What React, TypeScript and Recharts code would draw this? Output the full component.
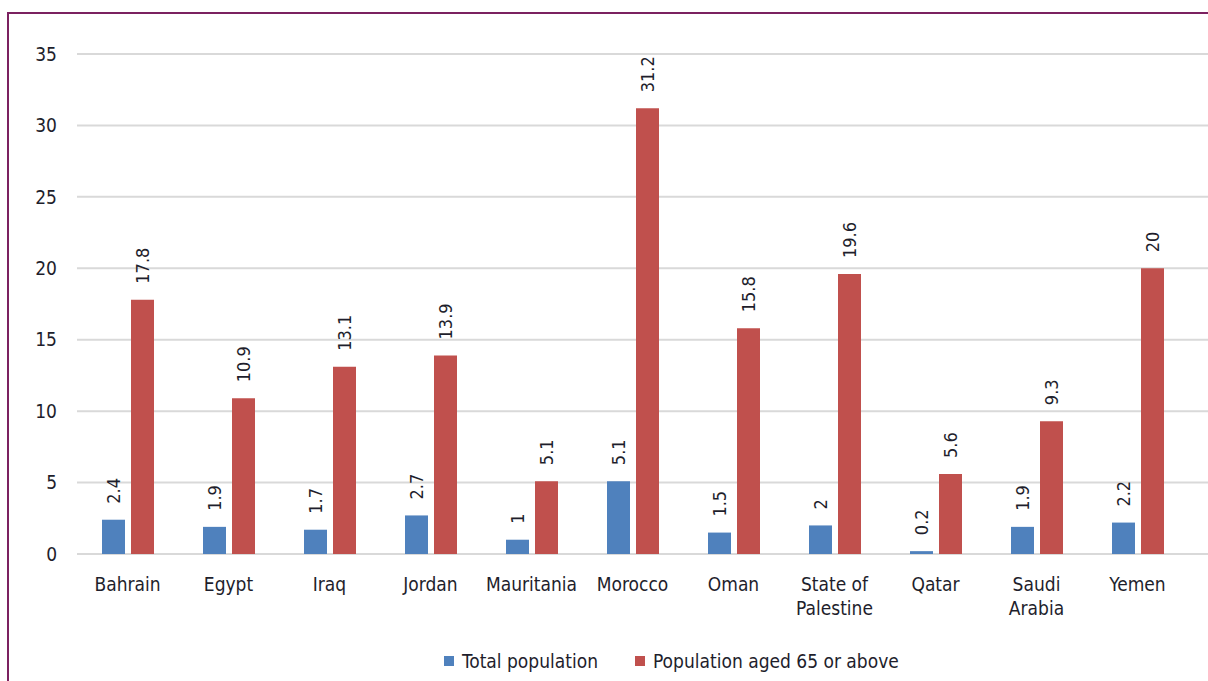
import React from 'react'
import { BarChart, Bar, XAxis, YAxis, CartesianGrid, LabelList, Text } from 'recharts'

// 国別データ
const countries = [
  'Bahrain',
  'Egypt',
  'Iraq',
  'Jordan',
  'Mauritania',
  'Morocco',
  'Oman',
  'State of Palestine',
  'Qatar',
  'Saudi Arabia',
  'Yemen',
]
const totalPopulation = [2.4, 1.9, 1.7, 2.7, 1, 5.1, 1.5, 2, 0.2, 1.9, 2.2]
const aged65 = [17.8, 10.9, 13.1, 13.9, 5.1, 31.2, 15.8, 19.6, 5.6, 9.3, 20]
const yTicks = [0, 5, 10, 15, 20, 25, 30, 35]

const SERIES_TOTAL = 'Total population'
const SERIES_AGED = 'Population aged 65 or above'

const BLUE = '#4F81BD'
const RED = '#C0504D'
const FONT = '"Liberation Sans Narrow", "DejaVu Sans Condensed", "Roboto", sans-serif'
const TEXT_COLOR = '#1e1e2c'

const data = countries.map((c, i) => ({
  country: c,
  [SERIES_TOTAL]: totalPopulation[i],
  [SERIES_AGED]: aged65[i],
}))

/**
 * 縦書きの値ラベル
 */
const ValueLabel = (props: any) => {
  const { x, y, width, value } = props
  const cx = x + width / 2
  const cy = y - 16
  return (
    <text
      x={cx}
      y={cy}
      transform={`rotate(-90, ${cx}, ${cy})`}
      textAnchor="start"
      dominantBaseline="central"
      fontFamily={FONT}
      fontSize={18}
      fill={TEXT_COLOR}
    >
      {value}
    </text>
  )
}

const CountryTick = (props: any) => {
  const { x, y, payload } = props
  return (
    <Text
      x={x}
      y={y}
      width={80}
      textAnchor="middle"
      verticalAnchor="start"
      fontFamily={FONT}
      fontSize={19}
      fill={TEXT_COLOR}
      lineHeight={24}
    >
      {payload.value}
    </Text>
  )
}

const LegendItem = ({ color, label }: { color: string; label: string }) => (
  <span style={{ display: 'inline-flex', alignItems: 'center', marginRight: 37 }}>
    <span style={{ width: 10, height: 10, background: color, marginRight: 8, display: 'inline-block' }} />
    <span style={{ fontFamily: FONT, fontSize: 19, color: TEXT_COLOR }}>{label}</span>
  </span>
)

export default function App() {
  return (
    <div
      style={{
        position: 'fixed',
        left: 0,
        top: 0,
        width: 1208,
        height: 681,
        background: '#fff',
        overflow: 'hidden',
      }}
    >
      {/* 枠線 */}
      <div
        style={{
          position: 'absolute',
          left: 7,
          top: 12,
          width: 1300,
          height: 800,
          borderTop: '2px solid #7B2160',
          borderLeft: '2px solid #7B2160',
        }}
      />
      <div style={{ position: 'absolute', left: 0, top: 0 }}>
        <BarChart
          width={1208}
          height={681}
          data={data}
          margin={{ top: 54, right: 0, left: 0, bottom: 67 }}
          barSize={23}
          barGap={6}
          barCategoryGap={24.5}
        >
          <CartesianGrid vertical={false} stroke="#d9d9d9" strokeWidth={2} />
          <XAxis
            dataKey="country"
            height={60}
            axisLine={false}
            tickLine={false}
            interval={0}
            tick={<CountryTick />}
            tickMargin={18}
            padding={{ left: 0, right: 20 }}
          />
          <YAxis
            width={77}
            domain={[0, 35]}
            ticks={yTicks}
            axisLine={false}
            tickLine={false}
            tickMargin={14}
            tick={{ fontFamily: FONT, fontSize: 19, fill: TEXT_COLOR }}
          />
          <Bar dataKey={SERIES_TOTAL} fill={BLUE} isAnimationActive={false}>
            <LabelList dataKey={SERIES_TOTAL} content={<ValueLabel />} />
          </Bar>
          <Bar dataKey={SERIES_AGED} fill={RED} isAnimationActive={false}>
            <LabelList dataKey={SERIES_AGED} content={<ValueLabel />} />
          </Bar>
        </BarChart>
      </div>
      <div
        style={{
          position: 'absolute',
          left: 444,
          top: 650,
          display: 'flex',
          whiteSpace: 'nowrap',
        }}
      >
        <LegendItem color={BLUE} label={SERIES_TOTAL} />
        <LegendItem color={RED} label={SERIES_AGED} />
      </div>
    </div>
  )
}
